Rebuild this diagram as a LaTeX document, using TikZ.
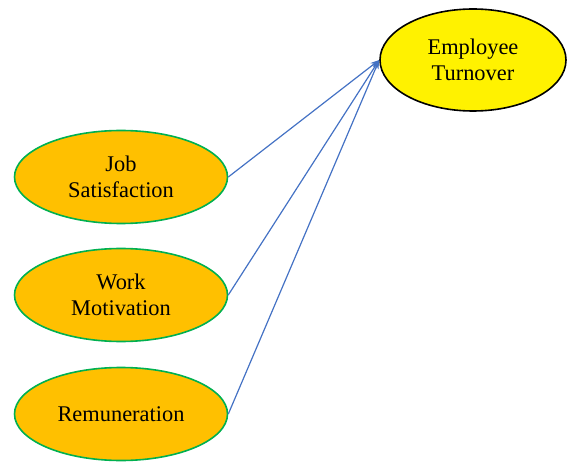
\documentclass[tikz,border=0pt]{standalone}
\usepackage{fontspec}
\setmainfont{Liberation Serif}
\usetikzlibrary{shapes.geometric,arrows.meta}
\definecolor{factorfill}{HTML}{FFC000}
\definecolor{factorline}{HTML}{00B050}
\definecolor{arrowblue}{HTML}{4472C4}
\begin{document}
\begin{tikzpicture}[x=1pt, y=1pt,
    factor/.style={ellipse,draw=factorline,fill=factorfill,line width=1.6pt,inner sep=0pt,
      minimum width=213pt,minimum height=93pt,align=center,font=\fontsize{22.4}{25.5}\selectfont},
    outcome/.style={ellipse,draw=black,fill=yellow,line width=1.6pt,inner sep=0pt,
      minimum width=186pt,minimum height=102pt,align=center,font=\fontsize{22.4}{25.5}\selectfont},
    link/.style={draw=arrowblue,line width=1.2pt,-{Stealth[length=9pt,width=6pt]}}]
    \useasboundingbox (0,0) rectangle (570,461);

    % Dependent variable
    \node[outcome] (et) at (473,401) {Employee\\Turnover};

    % Independent variables
    \node[factor] (js) at (121,284) {Job\\Satisfaction};
    \node[factor] (wm) at (121,166) {Work\\Motivation};
    \node[factor] (rm) at (121,47) {Remuneration};

    % Arrows
    \draw[link] (js.east) -- (et.west);
    \draw[link] (wm.east) -- (et.west);
    \draw[link] (rm.east) -- (et.west);
\end{tikzpicture}
\end{document}
